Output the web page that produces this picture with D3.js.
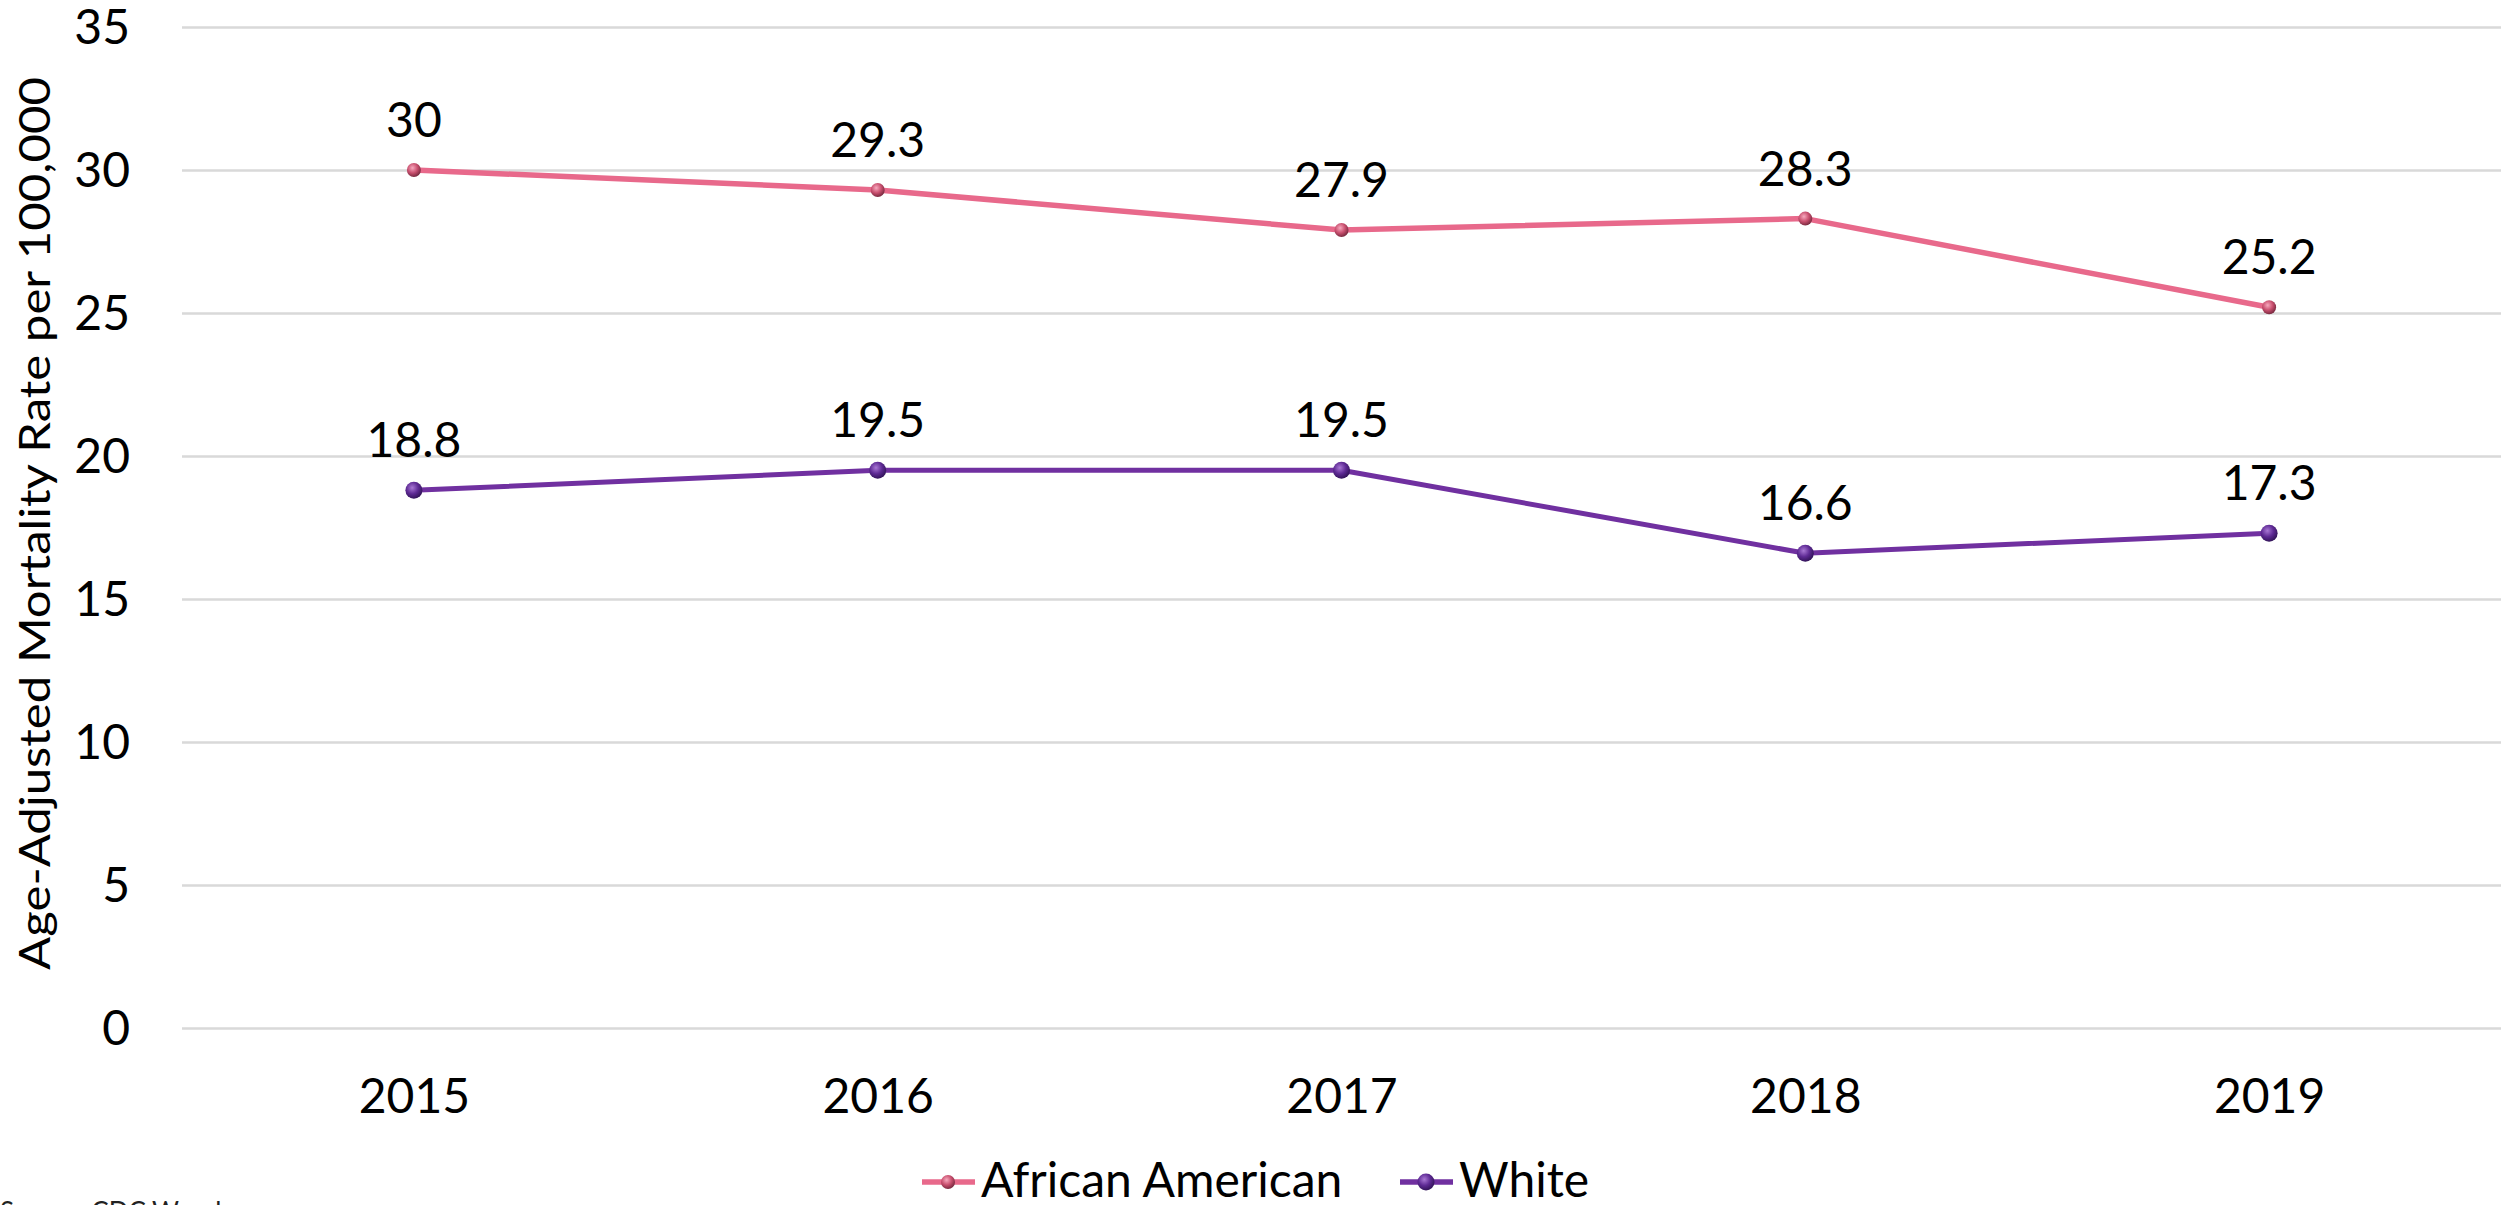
<!DOCTYPE html>
<html>
<head>
<meta charset="utf-8">
<script src="https://cdn.jsdelivr.net/npm/d3@7"></script>
<style>
  html, body { margin: 0; padding: 0; background: #fff; }
  svg { display: block; font-family: Lato, "Open Sans", sans-serif; }
</style>
</head>
<body>
<svg id="chart" width="2501" height="1205"></svg>
<script>
const years = ["2015", "2016", "2017", "2018", "2019"];
const africanAmerican = [30, 29.3, 27.9, 28.3, 25.2];
const white = [18.8, 19.5, 19.5, 16.6, 17.3];
const yTicks = [0, 5, 10, 15, 20, 25, 30, 35];
const seriesNames = ["African American", "White"];
const yTitle = "Age-Adjusted Mortality Rate per 100,000";
const sourceText = "Source: CDC Wonder";

const svg = d3.select("#chart");
const W = 2501, H = 1205;
const plotLeft = 182, plotRight = 2501, plotTop = 27, plotBottom = 1028;

const x = d3.scalePoint().domain(years).range([plotLeft, plotRight]).padding(0.5);
const y = d3.scaleLinear().domain([0, 35]).range([plotBottom, plotTop]);

// gradients for sphere-like markers
const defs = svg.append("defs");
function sphere(id, light, base, dark) {
  const g = defs.append("radialGradient").attr("id", id)
    .attr("cx", "40%").attr("cy", "35%").attr("r", "65%");
  g.append("stop").attr("offset", "0%").attr("stop-color", light);
  g.append("stop").attr("offset", "55%").attr("stop-color", base);
  g.append("stop").attr("offset", "100%").attr("stop-color", dark);
}
sphere("gPink", "#f7a9be", "#c9506f", "#7a2a40");
sphere("gPurple", "#a877d4", "#5e2a94", "#33145a");

// gridlines
const yAxis = d3.axisLeft(y).tickValues(yTicks).tickSize(-(plotRight - plotLeft)).tickPadding(52);
const gy = svg.append("g").attr("transform", `translate(${plotLeft},0)`).call(yAxis);
gy.select(".domain").remove();
gy.selectAll(".tick line").attr("stroke", "#d9d9d9").attr("stroke-width", 2.5);
gy.selectAll(".tick text").attr("font-size", 48).attr("fill", "#000")
  .attr("font-family", "Lato, sans-serif").attr("dy", "0.35em");

// x axis labels
const xAxis = d3.axisBottom(x).tickSize(0).tickPadding(0);
const gx = svg.append("g").attr("transform", `translate(0,${plotBottom})`).call(xAxis);
gx.select(".domain").remove();
gx.selectAll(".tick text").attr("font-size", 48).attr("fill", "#000")
  .attr("font-family", "Lato, sans-serif").attr("dy", 0).attr("y", 85);

// y title
svg.append("text")
  .attr("transform", `translate(50,${(77 + 970) / 2}) rotate(-90)`)
  .attr("text-anchor", "middle")
  .attr("font-size", 42)
  .attr("textLength", 893)
  .attr("lengthAdjust", "spacingAndGlyphs")
  .attr("fill", "#000")
  .text(yTitle);

const series = [
  { name: seriesNames[0], values: africanAmerican, color: "#e8698b", grad: "url(#gPink)", r: 7, w: 5.5 },
  { name: seriesNames[1], values: white, color: "#7030a0", grad: "url(#gPurple)", r: 8.5, w: 5 }
];

const line = d3.line().x((d, i) => x(years[i])).y(d => y(d));

series.forEach(s => {
  svg.append("path").datum(s.values)
    .attr("d", line).attr("fill", "none")
    .attr("stroke", s.color).attr("stroke-width", s.w)
    .attr("stroke-linejoin", "round");
  svg.selectAll(null).data(s.values).enter().append("circle")
    .attr("cx", (d, i) => x(years[i])).attr("cy", d => y(d))
    .attr("r", s.r).attr("fill", s.grad);
  svg.selectAll(null).data(s.values).enter().append("text")
    .attr("x", (d, i) => x(years[i])).attr("y", d => y(d) - 33)
    .attr("text-anchor", "middle").attr("font-size", 48).attr("fill", "#000")
    .text(d => d);
});

// legend
const legendItems = [{ s: series[0], x0: 922 }, { s: series[1], x0: 1400 }];
const ly = 1182;
legendItems.forEach(it => {
  const g = svg.append("g");
  g.append("line").attr("x1", it.x0).attr("x2", it.x0 + 53).attr("y1", ly).attr("y2", ly)
    .attr("stroke", it.s.color).attr("stroke-width", 5.5);
  g.append("circle").attr("cx", it.x0 + 26).attr("cy", ly).attr("r", it.s.r).attr("fill", it.s.grad);
  g.append("text").attr("x", it.x0 + 59).attr("y", 1197).attr("font-size", 48).attr("fill", "#000")
    .text(it.s.name);
});

// source (cut off at bottom)
svg.append("text").attr("x", 0).attr("y", 1221).attr("font-size", 26).attr("fill", "#222")
  .text(sourceText);
</script>
</body>
</html>
